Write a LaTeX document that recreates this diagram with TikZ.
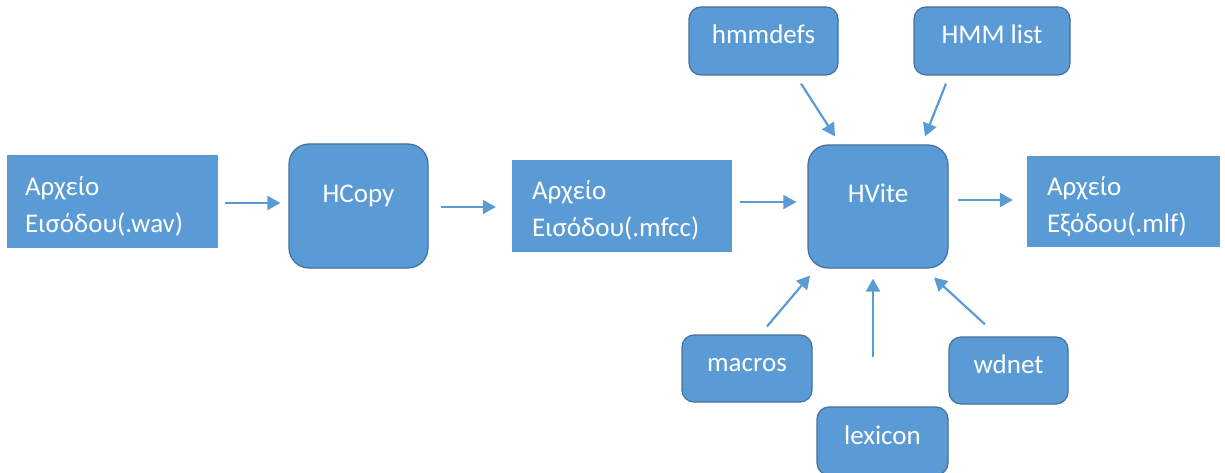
\documentclass[tikz,border=0pt]{standalone}
\usepackage{fontspec}
\setmainfont{Carlito}
\usetikzlibrary{arrows.meta}
\definecolor{boxblue}{HTML}{5B9BD5}
\definecolor{boxedge}{HTML}{41719C}
\tikzset{
  filebox/.style={rectangle, fill=boxblue, draw=none, text=white,
    align=left, anchor=center, inner xsep=0pt, inner ysep=0pt,
    text height=31pt, text depth=44pt,
    font=\fontsize{27}{37}\selectfont},
  toolbox/.style={rectangle, rounded corners=20pt, fill=boxblue, draw=boxedge,
    line width=1.2pt, text=white, inner sep=0pt,
    text height=18pt, text depth=25pt, font=\fontsize{27}{32}\selectfont},
  inbox/.style={rectangle, rounded corners=12pt, fill=boxblue, draw=boxedge,
    line width=1.2pt, text=white, inner sep=0pt,
    text height=18pt, text depth=12pt, font=\fontsize{27}{32}\selectfont},
  arr/.style={draw=boxblue, line width=2.2pt,
    -{Triangle[length=13pt,width=14pt]}}
}
\begin{document}
\begin{tikzpicture}[x=1pt,y=-1pt]
\useasboundingbox (0,0) rectangle (1225,473);

% file nodes (input / intermediate / output)
\node[filebox, minimum width=211pt, minimum height=92pt, text width=175pt]
  (wav) at (112.5,201.5) {Αρχείο\\Εισόδου(.wav)};
\node[filebox, minimum width=220pt, minimum height=92pt, text width=180pt]
  (mfcc) at (622,206) {Αρχείο\\Εισόδου(.mfcc)};
\node[filebox, minimum width=193pt, minimum height=91pt, text width=153pt]
  (mlf) at (1123.5,201.5) {Αρχείο\\Εξόδου(.mlf)};

% HTK tools
\node[toolbox, minimum width=139pt, minimum height=124pt] (hcopy) at (358.5,206) {HCopy};
\node[toolbox, minimum width=140pt, minimum height=123pt] (hvite) at (878,206.5) {HVite};

% HVite inputs
\node[inbox, minimum width=149pt, minimum height=68pt] (hmmdefs) at (763.5,41) {hmmdefs};
\node[inbox, minimum width=156pt, minimum height=68pt] (hmmlist) at (992,41) {HMM list};
\node[inbox, minimum width=130pt, minimum height=67pt] (macros) at (747,368.5) {macros};
\node[inbox, minimum width=131pt, minimum height=68pt] (lexicon) at (882.5,441) {lexicon};
\node[inbox, minimum width=119pt, minimum height=67pt] (wdnet) at (1008.5,370.5) {wdnet};

% main processing chain
\draw[arr] ([shift={(7,1.5)}]wav.east) -- ([shift={(-8,-3)}]hcopy.west);
\draw[arr] ([shift={(12,1)}]hcopy.east) -- ([shift={(-16,1)}]mfcc.west);
\draw[arr] ([shift={(8,-4)}]mfcc.east) -- ([shift={(-11,-4.5)}]hvite.west);
\draw[arr] ([shift={(9,-6.5)}]hvite.east) -- ([shift={(-14,-1.5)}]mlf.west);

% auxiliary inputs to HVite
\draw[arr] ([shift={(37.5,8)}]hmmdefs.south) -- ([shift={(-43,-8)}]hvite.north);
\draw[arr] ([shift={(-46,8)}]hmmlist.south) -- ([shift={(47,-8)}]hvite.north);
\draw[arr] ([shift={(20,-8)}]macros.north) -- ([shift={(-68,7)}]hvite.south);
\draw[arr] ([shift={(-9.5,-49)}]lexicon.north) -- ([shift={(-5,10)}]hvite.south);
\draw[arr] ([shift={(-23.5,-12)}]wdnet.north) -- ([shift={(56,9)}]hvite.south);
\end{tikzpicture}
\end{document}
